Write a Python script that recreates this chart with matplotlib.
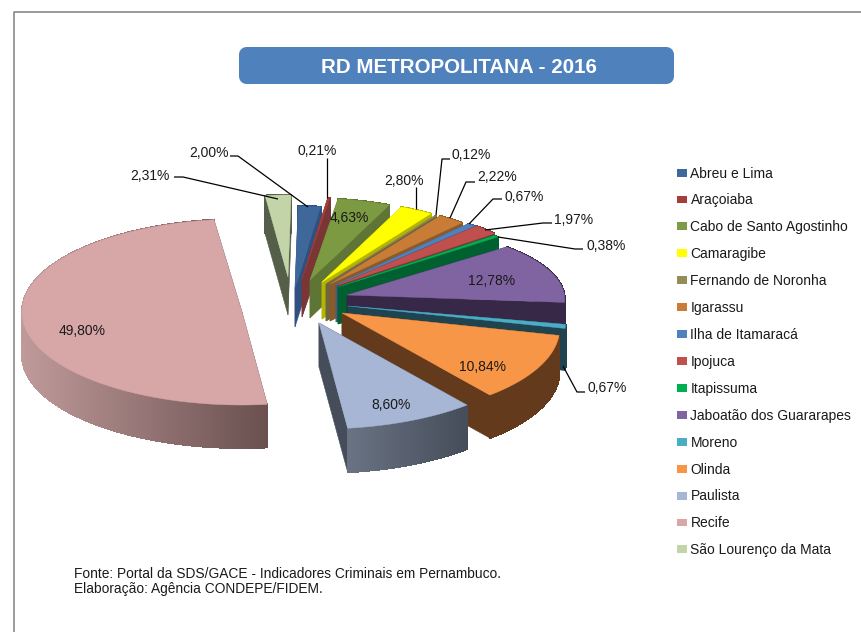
#!/usr/bin/env python3
import numpy as np
import matplotlib
matplotlib.use('Agg')
import matplotlib.pyplot as plt
from matplotlib.colors import to_rgb
from matplotlib.patches import FancyBboxPatch, Patch, Polygon

plt.rcParams['font.family'] = ['Liberation Sans', 'DejaVu Sans']

# data
names = ['Abreu e Lima', 'Araçoiaba', 'Cabo de Santo Agostinho', 'Camaragibe',
         'Fernando de Noronha', 'Igarassu', 'Ilha de Itamaracá', 'Ipojuca',
         'Itapissuma', 'Jaboatão dos Guararapes', 'Moreno', 'Olinda',
         'Paulista', 'Recife', 'São Lourenço da Mata']
shares = [2.00, 0.21, 4.63, 2.80, 0.12, 2.22, 0.67, 1.97, 0.38, 12.78, 0.67,
          10.84, 8.60, 49.80, 2.31]

# colours
top_colors = ['#3D6899', '#A33E3B', '#7C9A42', '#FFFF00', '#958C55', '#C87C35',
              '#4F81BD', '#C0504D', '#00B050', '#8064A2', '#4BACC6', '#F79646',
              '#A6B6D4', '#D7A6A6', '#C3D5A8']
legend_colors = ['#3D6899', '#A33E3B', '#7F9A48', '#FFFF00', '#958C55', '#C87C35',
                 '#4F81BD', '#C0504D', '#00B050', '#8064A2', '#4BACC6', '#F79646',
                 '#A6B6D4', '#D7A6A6', '#C3D5A8']
wall_light = ['#2F5080', '#7A3535', '#5F7535', '#B5B500', '#6B6540', '#8A5A2A',
              '#3A608A', '#7A3A38', '#006030', '#362846', '#1F4450', '#633A1C',
              '#6A7383', '#C09A9A', '#545E48']
wall_dark = ['#2F5080', '#7A3535', '#5F7535', '#B5B500', '#6B6540', '#8A5A2A',
             '#3A608A', '#7A3A38', '#006030', '#362846', '#1F4450', '#633A1C',
             '#454D5A', '#6A5050', '#545E48']

# where each exploded slice sits, in pixels
apex_x = [295, 302, 310, 322, 326, 330, 336, 338, 338, 347, 348, 342, 319, 242, 288]
apex_y = [288, 279, 280, 282, 284, 284, 285, 285, 287, 295, 306, 313, 323, 312, 277]
depth = [39, 38, 38, 37, 37, 37, 37, 37, 37, 40, 42, 43, 44, 43, 38]
tilt = [0, 0, 0, 0, 0, 0, 0, 0, 0, 8, 0, 0, 0, 0, 0]
ry_scale = [1, 1, 1, 1, 1, 1, 1, 1, 1, 0.83, 1, 1, 1, 1, 1]
draw_order = [14, 0, 1, 2, 3, 4, 5, 6, 7, 8, 9, 10, 11, 12, 13]
start_angle = 1.0

label_x = [209, 317, 349, 404, 471, 497, 524, 574, 606, 492, 607, 482, 391, 82, 150]
label_y = [153, 151, 218, 181, 155, 177, 197, 220, 246, 281, 388, 367, 405, 331, 176]

leaders = [
    [(230, 156), (238, 156), (308, 207)],
    [(327, 158), (327, 198)],
    [(416, 187), (416, 209)],
    [(450, 159), (442, 159), (436, 215)],
    [(475, 182), (466, 182), (450, 218)],
    [(502, 199), (493, 199), (469, 224)],
    [(552, 223), (543, 223), (485, 230)],
    [(583, 249), (575, 249), (498, 237)],
    [(585, 392), (577, 392), (563, 366)],
    [(174, 177), (183, 177), (278, 199)],
]


def arc_points(i, th_deg):
    th = np.radians(th_deg)
    if names[i] == 'Recife':
        rx, ry = 220.0, 93.0
    else:
        # nearer the viewer means bigger
        rx = 215 - 35 * np.cos(th)
        ry = (94 - 12 * np.cos(th)) * ry_scale[i]
    x = apex_x[i] + rx * np.sin(th)
    y = apex_y[i] - ry * np.cos(th) - tilt[i] * np.sin(th)
    return x, y


def mix(c1, c2, t):
    a, b = np.array(to_rgb(c1)), np.array(to_rgb(c2))
    return tuple(a + (b - a) * t)


fig = plt.figure(figsize=(8.61, 6.32), dpi=100)
ax = fig.add_axes([0, 0, 1, 1])
ax.set_xlim(0, 861)
ax.set_ylim(632, 0)
ax.axis('off')

# frame of the original sheet
ax.plot([14, 14, 861], [632, 11.5, 11.5], color='#808080', lw=1.1)

edges = start_angle + np.concatenate([[0], np.cumsum(shares)]) * 3.6

for i in draw_order:
    th = np.linspace(edges[i], edges[i + 1], max(4, int(shares[i] * 3.6 * 2)))
    x, y = arc_points(i, th)
    ax0, ay0, d = apex_x[i], apex_y[i], depth[i]
    # radial walls
    for k in (0, -1):
        ax.add_patch(Polygon([(ax0, ay0), (x[k], y[k]), (x[k], y[k] + d), (ax0, ay0 + d)],
                             fc=wall_dark[i], ec=wall_dark[i], lw=0.4))
    # outer wall, shaded piece by piece; no antialiasing or the seams show
    span = max(x.max() - x.min(), 1)
    for k in range(len(th) - 1):
        c = mix(wall_light[i], wall_dark[i], (x[k] - x.min()) / span)
        ax.add_patch(Polygon([(x[k], y[k]), (x[k + 1], y[k + 1]),
                              (x[k + 1], y[k + 1] + d), (x[k], y[k] + d)],
                             fc=c, ec=c, lw=0.7, antialiased=False))
    ax.add_patch(Polygon(np.column_stack([np.r_[ax0, x], np.r_[ay0, y]]),
                         fc=top_colors[i], ec=top_colors[i], lw=0.3))

for pts in leaders:
    px, py = zip(*pts)
    ax.plot(px, py, color='black', lw=0.9, solid_capstyle='butt')

for i, v in enumerate(shares):
    ax.text(label_x[i], label_y[i], f'{v:.2f}'.replace('.', ',') + '%',
            ha='center', va='center', fontsize=10, color='#1A1A1A')

# title box
ax.add_patch(FancyBboxPatch((243, 51), 427, 29, boxstyle='round,pad=0,rounding_size=4',
                            mutation_aspect=1, fc='#4F81BD', ec='#4F81BD', lw=8 * 0.72,
                            joinstyle='round'))
ax.text(459, 67.5, 'RD METROPOLITANA - 2016', ha='center', va='center', color='white',
        fontsize=14.8, fontweight='bold')

# legend
handles = [Patch(fc=c, ec='none', label=n) for c, n in zip(legend_colors, names)]
leg = ax.legend(handles=handles, loc='upper left', bbox_to_anchor=(677 / 861, 1 - 166.5 / 632),
                frameon=False, fontsize=10, handlelength=0.72, handleheight=0.5,
                handletextpad=0.25, labelspacing=0.93, borderpad=0, borderaxespad=0)
for t in leg.get_texts():
    t.set_color('#1A1A1A')

ax.text(74, 574.5, 'Fonte: Portal da SDS/GACE - Indicadores Criminais em Pernambuco.',
        ha='left', va='center', fontsize=9.95, color='#1A1A1A')
ax.text(74, 589.5, 'Elaboração: Agência CONDEPE/FIDEM.',
        ha='left', va='center', fontsize=9.95, color='#1A1A1A')

fig.savefig('out.png', dpi=100)
